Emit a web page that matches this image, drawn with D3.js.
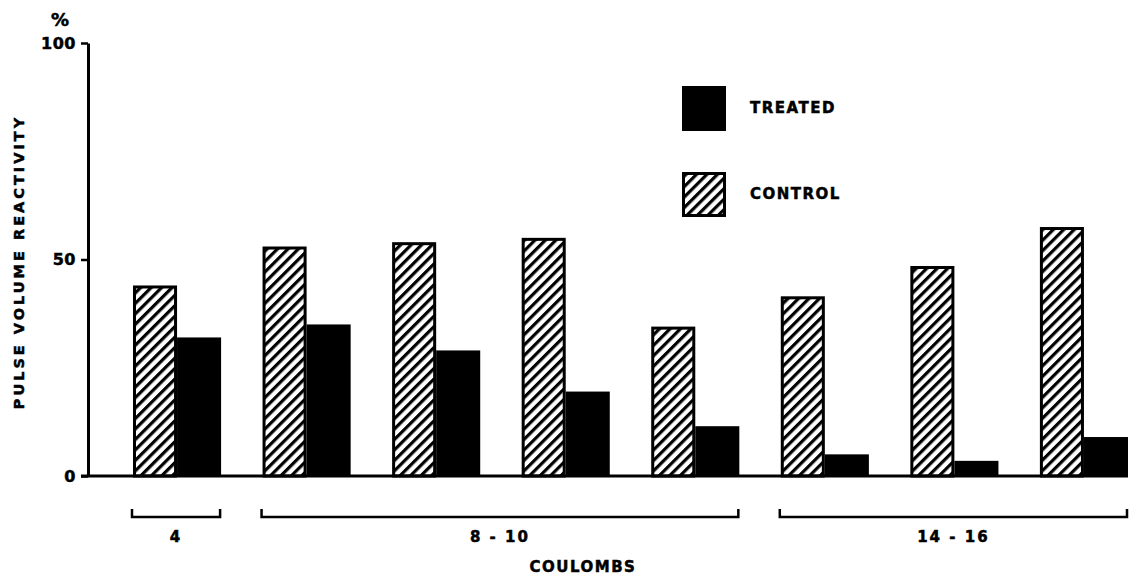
<!DOCTYPE html>
<html>
<head>
<meta charset="utf-8">
<script src="https://cdn.jsdelivr.net/npm/d3@7"></script>
<style>
  html, body { margin: 0; padding: 0; background: #fff; }
  svg { display: block; }
  text { font-family: "DejaVu Sans", Verdana, sans-serif; font-weight: bold; fill: #000; stroke: #000; stroke-width: 0.5px; }
</style>
</head>
<body>
<svg id="chart" width="1133" height="578"></svg>
<script>
// ---- data ----
const categories = ["4 C", "8-10 C (a)", "8-10 C (b)", "8-10 C (c)", "8-10 C (d)", "14-16 C (a)", "14-16 C (b)", "14-16 C (c)"];
const controlValues = [44, 53, 54, 55, 34.5, 41.5, 48.5, 57.5];
const treatedValues = [32, 35, 29, 19.5, 11.5, 5, 3.5, 9];
const seriesNames = ["CONTROL", "TREATED"];
const yTicks = [0, 50, 100];
const bracketLabels = ["4", "8 - 10", "14 - 16"];
const bracketStart = [0, 1, 5];
const bracketEnd = [0, 4, 7];
const xTitle = "COULOMBS";
const yTitle = "PULSE VOLUME REACTIVITY";
const yUnit = "%";

// ---- chart ----
const svg = d3.select("#chart");
const defs = svg.append("defs");
defs.append("pattern")
  .attr("id", "hatch")
  .attr("patternUnits", "userSpaceOnUse")
  .attr("width", 7.4).attr("height", 7.4)
  .attr("patternTransform", "rotate(45)")
  .append("rect")
  .attr("x", 0).attr("y", 0).attr("width", 3.2).attr("height", 7.4)
  .attr("fill", "#000");

const y = d3.scaleLinear().domain([0, 100]).range([476, 43]);
const x = d3.scaleBand().domain(categories).range([133, 1128]).paddingInner(0.32).paddingOuter(0);
const xs = d3.scaleBand().domain(seriesNames).range([0, x.bandwidth()]);
const axisX = 88;

// bars
const g = svg.append("g");
const groups = g.selectAll("g.grp").data(categories).join("g")
  .attr("class", "grp")
  .attr("transform", d => `translate(${x(d)},0)`);

groups.append("rect")
  .attr("x", xs("CONTROL") + 1.5)
  .attr("width", xs.bandwidth() - 3)
  .attr("y", (d, i) => y(controlValues[i]) + 1.5)
  .attr("height", (d, i) => y(0) - y(controlValues[i]) - 1.5)
  .attr("fill", "url(#hatch)")
  .attr("stroke", "#000").attr("stroke-width", 3);

groups.append("rect")
  .attr("x", xs("TREATED"))
  .attr("width", xs.bandwidth())
  .attr("y", (d, i) => y(treatedValues[i]))
  .attr("height", (d, i) => y(0) - y(treatedValues[i]))
  .attr("fill", "#000");

// y axis
const yAxis = d3.axisLeft(y).tickValues(yTicks).tickSize(7).tickSizeOuter(0).tickPadding(5).tickFormat(d3.format("d"));
const ya = svg.append("g").attr("transform", `translate(${axisX},0)`).call(yAxis);
ya.select(".domain").attr("stroke", "#000").attr("stroke-width", 3);
ya.selectAll(".tick line").attr("stroke", "#000").attr("stroke-width", 2.5);
ya.selectAll(".tick text").style("font-size", "16px").attr("letter-spacing", "0.5px")
  .style("font-family", "\"DejaVu Sans\", sans-serif").style("font-weight", "bold")
  .attr("fill", "#000").attr("stroke", "#000").attr("stroke-width", 0.6);

// baseline
svg.append("line")
  .attr("x1", axisX - 7).attr("x2", x.range()[1])
  .attr("y1", y(0)).attr("y2", y(0))
  .attr("stroke", "#000").attr("stroke-width", 3);

// unit and y title
svg.append("text").attr("x", 60).attr("y", 26).attr("text-anchor", "middle").style("font-size", "18px").text(yUnit);
svg.append("text")
  .attr("transform", "translate(24,262) rotate(-90)")
  .attr("text-anchor", "middle").style("font-size", "14.5px").attr("letter-spacing", "3px")
  .text(yTitle);

// brackets
const bY = 517, bTick = 8;
bracketLabels.forEach((lab, i) => {
  const x0 = x(categories[bracketStart[i]]) - 1;
  const x1 = x(categories[bracketEnd[i]]) + x.bandwidth() - 1;
  svg.append("path")
    .attr("d", `M${x0},${bY - bTick}V${bY}H${x1}V${bY - bTick}`)
    .attr("fill", "none").attr("stroke", "#000").attr("stroke-width", 2.5);
  svg.append("text").attr("x", (x0 + x1) / 2).attr("y", 542).attr("text-anchor", "middle")
    .style("font-size", "15px").attr("letter-spacing", "2px").text(lab);
});
svg.append("text").attr("x", 583).attr("y", 572).attr("text-anchor", "middle")
  .style("font-size", "15px").attr("letter-spacing", "1.5px").text(xTitle);

// legend
const legendSeries = ["TREATED", "CONTROL"];
const legendY = [86, 172];
legendSeries.forEach((s, i) => {
  if (s === "TREATED") {
    svg.append("rect").attr("x", 682).attr("y", legendY[i]).attr("width", 44).attr("height", 45).attr("fill", "#000");
  } else {
    svg.append("rect").attr("x", 683.5).attr("y", legendY[i] + 1.5).attr("width", 41).attr("height", 42)
      .attr("fill", "url(#hatch)").attr("stroke", "#000").attr("stroke-width", 3);
  }
  svg.append("text").attr("x", 750).attr("y", legendY[i] + 27).style("font-size", "15px").attr("letter-spacing", "1.5px").text(s);
});
</script>
</body>
</html>
